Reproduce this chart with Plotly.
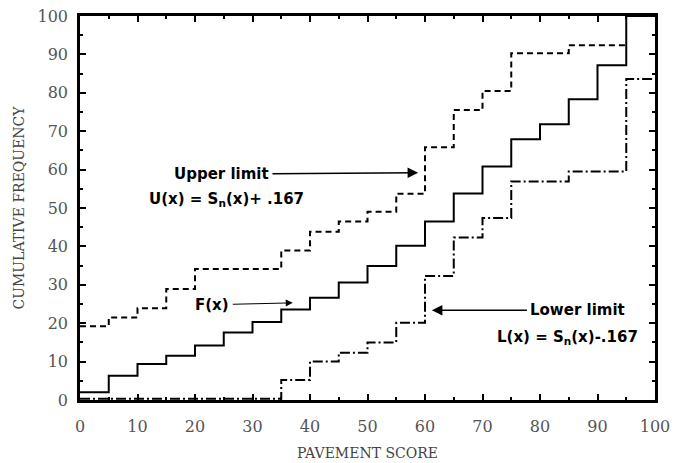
import plotly.graph_objects as go

# Pavement score bins (left edge of each step)
scores = [0, 5, 10, 15, 20, 25, 30, 35, 40, 45, 50, 55, 60, 65, 70, 75, 80, 85, 90, 95, 100]

# Empirical cumulative distribution F(x), percent
f_x = [2.0, 6.3, 9.4, 11.5, 14.2, 17.6, 20.3, 23.6, 26.6, 30.6, 34.9,
       40.2, 46.5, 53.8, 60.8, 67.9, 71.8, 78.3, 87.2, 100.0, 100.0]

# Upper confidence band U(x) = Sn(x) + .167
upper_scores = [0, 5, 10, 15, 20, 25, 30, 35, 40, 45, 50, 55, 60, 65, 70, 75, 80, 85, 90, 95]
upper = [19.2, 21.5, 23.9, 28.9, 34.1, 34.1, 34.1, 38.9, 43.8, 46.5, 49.0,
         53.7, 65.8, 75.5, 80.5, 90.3, 90.3, 92.4, 92.4, 92.4]

# Lower confidence band L(x) = Sn(x) - .167
lower = [0.3, 0.3, 0.3, 0.3, 0.3, 0.3, 0.3, 5.2, 10.0, 12.3, 15.0,
         20.1, 32.3, 42.3, 47.4, 56.9, 56.9, 59.5, 59.5, 83.6, 83.6]

x_ticks = [0, 10, 20, 30, 40, 50, 60, 70, 80, 90, 100]
y_ticks = [0, 10, 20, 30, 40, 50, 60, 70, 80, 90, 100]

fig = go.Figure()

fig.add_trace(go.Scatter(
    x=upper_scores, y=upper, mode="lines", line_shape="hv",
    line=dict(color="black", width=2, dash="6px,4px"), name="U(x)"))
fig.add_trace(go.Scatter(
    x=scores, y=lower, mode="lines", line_shape="hv",
    line=dict(color="black", width=2, dash="10px,3px,2px,3px"), name="L(x)"))
fig.add_trace(go.Scatter(
    x=scores, y=f_x, mode="lines", line_shape="hv",
    line=dict(color="black", width=2), name="F(x)"))

label_font = dict(family="DejaVu Sans", size=15, color="black", weight="bold")

annotations = [
    # Upper limit: label with arrow pointing at the upper band
    dict(x=58.8, y=59.2, ax=24.6, ay=58.8, xref="x", yref="y", axref="x", ayref="y",
         text="Upper limit", font=label_font, showarrow=True, arrowhead=2,
         arrowsize=1.4, arrowwidth=1.5, arrowcolor="black", standoff=0, borderpad=3),
    dict(x=25.4, y=52.1, xref="x", yref="y", text="U(x) = S<sub>n</sub>(x)+ .167",
         showarrow=False, font=label_font, xanchor="center"),
    # F(x) label with arrow pointing at the step curve
    dict(x=37.0, y=25.3, ax=23.0, ay=24.8, xref="x", yref="y", axref="x", ayref="y",
         text="F(x)", font=label_font, showarrow=True, arrowhead=2,
         arrowsize=1.4, arrowwidth=1.0, arrowcolor="black", standoff=0, borderpad=3),
    # Lower limit: label with arrow pointing at the lower band
    dict(x=61.2, y=23.4, ax=86.6, ay=23.4, xref="x", yref="y", axref="x", ayref="y",
         text="Lower limit", font=label_font, showarrow=True, arrowhead=2,
         arrowsize=1.4, arrowwidth=1.5, arrowcolor="black", standoff=0, borderpad=3),
    dict(x=84.8, y=16.4, xref="x", yref="y", text="L(x) = S<sub>n</sub>(x)-.167",
         showarrow=False, font=label_font, xanchor="center"),
]

tick_font = dict(family="DejaVu Serif", size=16, color="#555555")
title_font = dict(family="DejaVu Serif", size=14, color="#444444")

axis_common = dict(
    showline=True, linewidth=2.5, linecolor="black", mirror="allticks",
    ticks="inside", ticklen=6, tickwidth=2, tickcolor="black",
    showgrid=False, zeroline=False, tickfont=tick_font, automargin=False,
    minor=dict(ticks="inside", ticklen=3, tickwidth=1.5, tickcolor="black", dtick=5),
)

fig.update_layout(
    width=675, height=463,
    margin=dict(l=80, r=20, t=16, b=63),
    paper_bgcolor="white", plot_bgcolor="white",
    showlegend=False,
    annotations=annotations,
    xaxis=dict(range=[0, 100], tickvals=x_ticks, ticklabelstandoff=10,
               title=dict(text="PAVEMENT SCORE", font=title_font, standoff=14),
               **axis_common),
    yaxis=dict(range=[0, 100], tickvals=y_ticks, ticklabelstandoff=6,
               title=dict(text="CUMULATIVE FREQUENCY", font=title_font, standoff=10),
               **axis_common),
)

fig.write_html("out.html")
